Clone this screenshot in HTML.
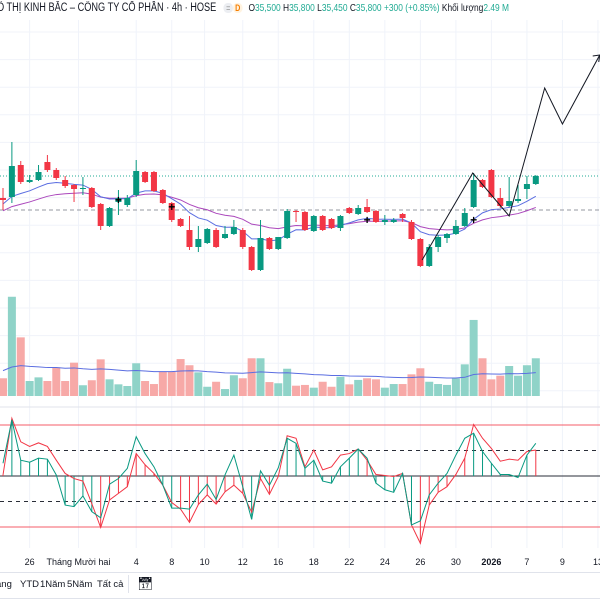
<!DOCTYPE html>
<html><head><meta charset="utf-8"><style>
html,body{margin:0;padding:0;background:#fff;width:600px;height:600px;overflow:hidden;font-family:"Liberation Sans","Noto Sans CJK SC",sans-serif}
#hdr{position:absolute;left:-3px;top:2px;font-size:11.5px;color:#131722;white-space:nowrap;transform:scaleX(0.8);transform-origin:0 0}
#hdr .g{color:#22ab94}
#tb{position:absolute;left:0;top:572px;width:600px;height:25px;border-top:1px solid #e0e3eb;border-bottom:1px solid #e0e3eb;font-size:9.5px;color:#131722}
#tb span{position:absolute;top:6px;white-space:nowrap}
</style></head><body>
<svg id="chart" width="600" height="600" style="position:absolute;left:0;top:0" xmlns="http://www.w3.org/2000/svg"></svg>
<div id="hdr"><span>Ô THỊ KINH BẮC – CÔNG TY CỔ PHẦN · 4h · HOSE</span>
<span style="display:inline-block;background:#eceef2;color:#888;border-radius:6px;font-size:9px;padding:0 3px;margin-left:6px">=</span><span style="display:inline-block;background:#fff3e0;color:#f57c00;border-radius:6px;font-size:9px;font-weight:bold;padding:0 3px">D</span>
<span style="font-size:10.5px;margin-left:4px">O<span class="g">35,500</span> H<span class="g">35,800</span> L<span class="g">35,450</span> C<span class="g">35,800</span> <span class="g">+300 (+0.85%)</span> Khối lượng<span class="g">2.49 M</span></span></div>
<div id="tb">
<span style="left:-4px">ang</span>
<span style="left:20px">YTD</span>
<span style="left:40px">1Năm</span>
<span style="left:67px">5Năm</span>
<span style="left:97px">Tất cả</span>
<span style="left:128px;top:2px;width:1px;height:18px;background:#e0e3eb"></span>
<span style="left:137px;top:3px;font-size:13px">📅︎</span>
</div>
<script>
const opens=[34700,34750,36350,35500,35600,36500,36100,35600,35350,35150,35200,34400,33300,34500,34350,34850,36000,36000,35100,34450,33650,33100,32250,32450,33100,32700,32900,33100,32250,31100,32700,32150,32700,34050,34000,33050,33800,33650,33200,34200,33900,34250,34050,33500,33500,33900,33500,32650,31300,32250,32700,32900,33300,34250,35600,36100,34700,34300,34550,35150,35400];
const highs=[35200,37500,36550,35850,36350,36850,36200,35800,35400,35750,35250,34450,34250,35100,34850,36600,36050,36050,35150,34500,33700,33800,33300,33200,33200,33300,33600,33200,32300,33600,32750,32750,34150,34100,34050,33850,33850,33700,33850,34250,34350,34650,34100,33850,33700,33950,33600,32700,32400,32850,32950,33600,34200,35950,35650,36150,35200,35750,35350,35800,35850];
const lows=[34100,34450,35400,35450,35550,36000,35600,35200,34500,34850,34200,33100,33250,33850,34250,34750,35450,35000,34400,33500,33250,32100,32000,32400,32200,32650,32850,32150,31050,31050,32100,32100,32650,33500,33050,33000,33050,33150,33050,33900,33850,33950,33450,33350,33450,33500,32600,31250,31250,32000,32450,32850,33250,34200,35200,34700,34200,34250,34450,34650,35350];
const closes=[34600,36300,35500,35600,36000,36100,35700,35300,35150,35200,34250,33300,34200,34700,34700,36050,35500,35050,34450,33600,33300,32250,32650,33150,32250,32900,33250,32250,31100,32700,32150,32750,34050,34000,33100,33800,33100,33200,33800,33950,34200,34000,33500,33600,33600,33700,32650,31300,32250,32750,32900,33300,33950,35600,35250,34750,34300,34550,34650,35400,35800];
const volumes=[1.17,6.55,3.87,0.99,1.23,0.99,1.89,0.99,2.2,0.71,1.04,2.42,1.1,0.77,0.66,2.16,0.99,0.79,1.6,1.6,2.44,2.03,1.56,0.61,0.94,0.46,1.37,1.17,2.49,2.49,0.92,0.84,1.8,0.68,0.73,0.55,0.94,0.61,1.27,0.77,1.06,1.17,1.1,0.55,0.79,0.79,1.43,1.83,0.94,0.79,0.73,1.17,2.09,5.02,2.49,1.1,1.34,1.98,1.34,2.03,2.49];
const oscFast=[25,110,31,27,35,33,2,-57,-60,-39,-70,-82,-16,-5,15,77,44,18,-18,-63,-63,-65,-37,-16,-46,2,41,-21,-85,10,-18,16,74,64,15,31,-10,-14,18,35,53,35,-14,-27,-32,5,-96,-88,-37,-14,5,41,74,84,48,25,3,3,-3,41,64];
const oscSlow=[2,113,67,58,65,58,31,5,-5,-10,-54,-101,-47,-34,-21,44,22,5,-18,-52,-65,-91,-56,-37,-55,-31,-18,-34,-71,-5,-36,-1,79,74,18,51,12,18,41,44,53,31,3,1,-1,5,-96,-132,-57,-32,-21,3,35,101,74,54,29,33,31,48,51];
const zigIdx=[47.2,52.9,57,61,63,67.2];
const zigPrice=[31600,35950,33800,40200,38400,41850];
const crossIdx=[13,19,41,53];
const crossPrice=[34600,34250,33600,33600];
const dateLabels=["26","Tháng Mười hai","4","8","10","12","16","18","22","24","26","30","2026","7","9","13"];
const dateIdx=[3,8.5,15,19,22.7,27,31,35,39,43,47,51,55,59,63,67];
const lastPrice=35800, refPrice=34100;

const svg=document.getElementById('chart');
const NS='http://www.w3.org/2000/svg';
function mk(tag,attrs,parent){const e=document.createElementNS(NS,tag);for(const k in attrs)e.setAttribute(k,attrs[k]);(parent||svg).appendChild(e);return e;}
const xC=i=>3+i*8.88;
const yP=p=>(44600-p)/50;
const VOL_BASE=396, yV=v=>VOL_BASE-v/0.066;
const yO=v=>476-v*0.51;

const grid=mk('g',{});


for(let y=32;y<400;y+=27.6){mk('line',{x1:0,x2:600,y1:y,y2:y,stroke:'#f0f3fa'},grid);}
dateIdx.forEach(d=>{mk('line',{x1:xC(d),x2:xC(d),y1:20,y2:548,stroke:'#f0f3fa'},grid);});
mk('line',{x1:0,x2:600,y1:407,y2:407,stroke:'#e0e3eb'});

const lp=mk('line',{x1:0,x2:600,y1:yP(lastPrice),y2:yP(lastPrice),stroke:'#22ab94','stroke-dasharray':'1 2'});


const rp=mk('line',{x1:0,x2:600,y1:yP(refPrice),y2:yP(refPrice),stroke:'#9598a1','stroke-dasharray':'4 3'});



function ema(arr,n,seed){const k=2/(n+1);let e=seed;return arr.map(v=>(e=v*k+e*(1-k)));}
const maFast=ema(closes,9,34350), maSlow=ema(closes,20,34000);
function line(vals,fx,fy,stroke,name,w){const p=mk('polyline',{points:vals.map((v,i)=>fx(i)+','+fy(v)).join(' '),fill:'none',stroke:stroke,'stroke-width':w||1});

return p;}
line(maSlow,xC,yP,'#ab47bc','ma-slow-line');
line(maFast,xC,yP,'#5b6ee1','ma-fast-line');

closes.forEach((c,i)=>{const o=opens[i],up=c>=o,col=up?'#089981':'#f23645';const g=mk('g',{});


mk('line',{x1:xC(i),x2:xC(i),y1:yP(highs[i]),y2:yP(lows[i]),stroke:col},g);
const t=yP(Math.max(o,c)),b=yP(Math.min(o,c));
mk('rect',{x:xC(i)-3,y:t,width:6,height:Math.max(1,b-t),fill:col},g);});

crossIdx.forEach((d,k)=>{const x=xC(d),y=yP(crossPrice[k]);const t=mk('text',{x:x,y:y+4,'text-anchor':'middle','font-size':'12','font-weight':'bold',fill:'#000'});t.textContent='+';

});

const zz=mk('polyline',{points:zigIdx.map((d,k)=>xC(d)+','+yP(zigPrice[k])).join(' '),fill:'none',stroke:'#131722','stroke-width':1});


const n=zigIdx.length,ax=xC(zigIdx[n-1]),ay=yP(zigPrice[n-1]);
const ah=mk('polyline',{points:(ax-7)+','+(ay+1)+' '+ax+','+ay+' '+(ax-1)+','+(ay+7),fill:'none',stroke:'#131722'});



volumes.forEach((v,i)=>{const up=closes[i]>=opens[i];const r=mk('rect',{x:xC(i)-4,y:yV(v),width:8,height:VOL_BASE-yV(v),fill:up?'#8fd3c8':'#f7a9a7'});

});
line(ema(volumes,40,1.7),xC,yV,'#5b6ee1','volume-ma-line');

[[100,'#f23645','solid'],[50,'#131722','dash'],[0,'#131722','solid'],[-50,'#131722','dash'],[-100,'#f23645','solid']].forEach(([v,c,s])=>{const l=mk('line',{x1:0,x2:600,y1:yO(v),y2:yO(v),stroke:c,'stroke-width':1,'stroke-dasharray':s==='dash'?'4 4':'none','stroke-opacity':c==='#f23645'?0.8:0.9});

});
oscFast.forEach((f,i)=>{const s=oscSlow[i];const v=Math.min(f,s);const col=f<=s?'#089981':'#f23645';
const l=mk('line',{x1:xC(i),x2:xC(i),y1:yO(0),y2:yO(v),stroke:col});

});
line(oscSlow,xC,yO,'#f23645','oscillator-slow-line');
line(oscFast,xC,yO,'#089981','oscillator-fast-line');

dateLabels.forEach((t,k)=>{const e=mk('text',{x:xC(dateIdx[k]),y:565,'text-anchor':'middle','font-size':'9',fill:'#131722','font-weight':t==='2026'?'bold':'normal'});e.textContent=t;

});
</script>
</body></html>
